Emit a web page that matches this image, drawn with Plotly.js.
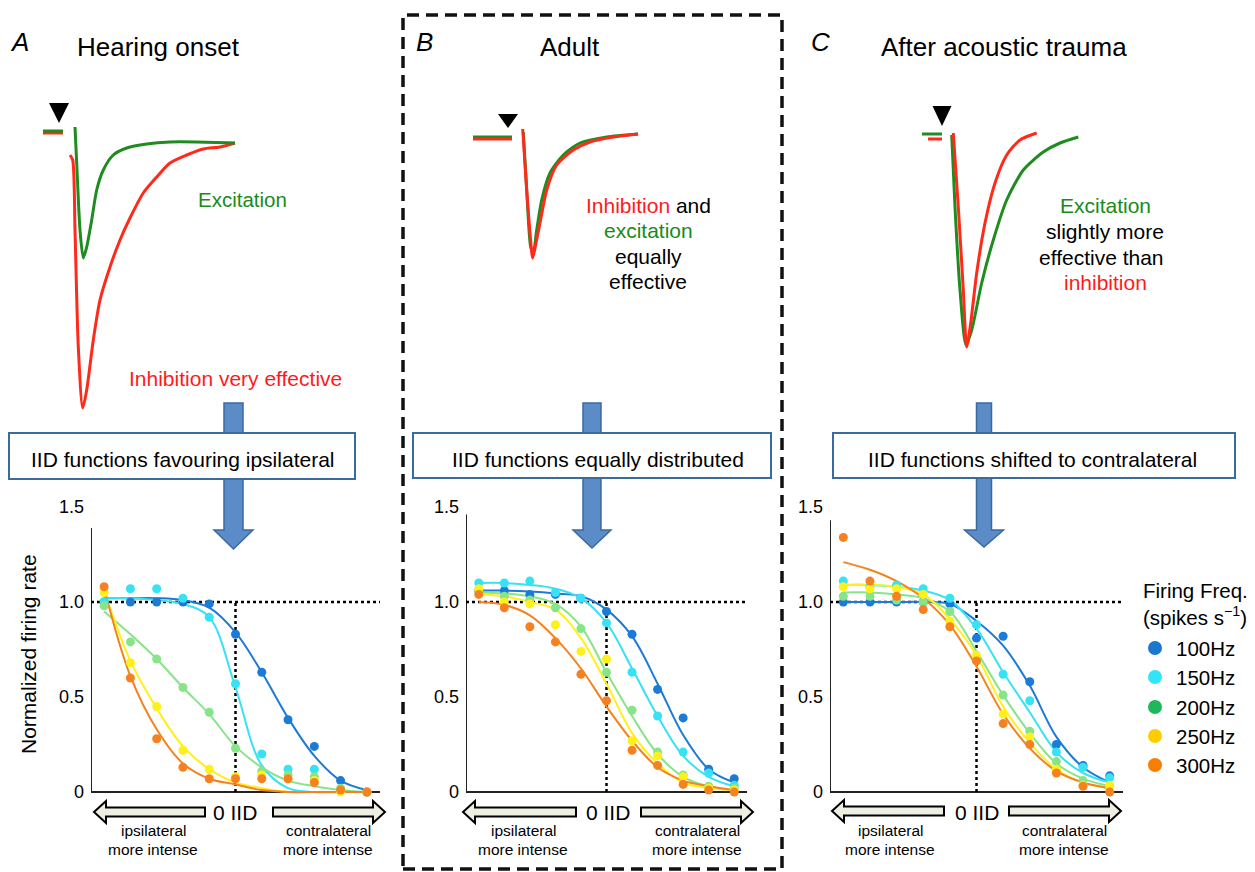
<!DOCTYPE html>
<html><head><meta charset="utf-8">
<script src="https://cdn.plot.ly/plotly-3.0.1.min.js"></script>
<style>html,body{margin:0;padding:0;background:#fff}</style>
</head><body>
<div id="chart" style="width:1255px;height:872px"></div>
<script>
// ---------------- DATA ----------------
const IID = [-5,-4,-3,-2,-1,0,1,2,3,4,5];
const freqLabels = ['100Hz','150Hz','200Hz','250Hz','300Hz'];
const freqColors = ['#1b7bd6','#36e2f3','#88e488','#fff01a','#f5821f'];
const legendColors = ['#1a78cf','#30e6f6','#1db85a','#ffcc00','#f77f00'];

// A: hearing onset (normalized firing rate, points and fitted curves)
const onsetPoints = [
  [1.00,1.00,1.00,1.00,0.99,0.83,0.63,0.38,0.24,0.06,0.00],
  [1.00,1.07,1.07,1.02,0.92,0.57,0.20,0.12,0.12,0.01,0.00],
  [0.98,0.79,0.70,0.55,0.42,0.23,0.11,0.09,0.08,0.02,0.00],
  [1.05,0.68,0.45,0.22,0.12,0.08,0.09,0.07,0.06,0.00,0.00],
  [1.08,0.60,0.28,0.13,0.07,0.07,0.07,0.07,0.05,0.01,0.00]
];
const onsetFits = [
  [1.02,1.02,1.02,1.01,0.97,0.84,0.63,0.39,0.19,0.06,0.01],
  [1.02,1.02,1.01,0.99,0.92,0.55,0.14,0.02,0.00,0.00,0.00],
  [0.95,0.83,0.70,0.55,0.41,0.24,0.13,0.06,0.03,0.01,0.00],
  [1.06,0.69,0.44,0.24,0.12,0.05,0.02,0.00,0.00,0.00,0.00],
  [1.07,0.61,0.33,0.15,0.07,0.04,0.01,0.00,0.00,0.00,0.00]
];
// B: adult
const adultPoints = [
  [1.06,1.06,1.04,1.04,1.02,0.95,0.83,0.54,0.39,0.12,0.07],
  [1.10,1.10,1.11,1.05,1.02,0.89,0.63,0.40,0.21,0.10,0.035],
  [1.06,1.03,1.01,0.97,0.86,0.63,0.43,0.21,0.09,0.03,0.02],
  [1.07,1.00,0.99,0.88,0.74,0.70,0.27,0.19,0.08,0.02,0.01],
  [1.04,0.97,0.87,0.79,0.62,0.48,0.22,0.14,0.04,0.01,0.00]
];
const adultFits = [
  [1.06,1.06,1.055,1.045,1.03,0.96,0.82,0.57,0.30,0.12,0.05],
  [1.10,1.10,1.09,1.07,1.02,0.89,0.65,0.40,0.19,0.08,0.03],
  [1.05,1.045,1.03,0.99,0.87,0.63,0.40,0.20,0.08,0.03,0.01],
  [1.04,1.03,1.00,0.96,0.81,0.57,0.31,0.15,0.05,0.02,0.01],
  [1.00,0.985,0.93,0.81,0.65,0.45,0.27,0.13,0.06,0.03,0.01]
];
// C: after acoustic trauma
const traumaPoints = [
  [1.00,1.00,1.00,1.00,0.99,0.81,0.82,0.58,0.25,0.14,0.085],
  [1.11,1.08,1.09,1.07,1.02,0.88,0.62,0.48,0.21,0.13,0.075],
  [1.03,1.03,1.01,1.00,0.95,0.69,0.51,0.32,0.16,0.06,0.03],
  [1.08,1.07,1.07,1.04,0.90,0.72,0.41,0.29,0.12,0.035,0.035],
  [1.34,1.11,1.03,0.96,0.87,0.69,0.36,0.25,0.10,0.03,0.00]
];
const traumaFits = [
  [1.00,1.00,1.00,1.00,0.99,0.90,0.77,0.56,0.29,0.13,0.05],
  [1.09,1.09,1.08,1.06,1.01,0.86,0.63,0.42,0.21,0.10,0.05],
  [1.05,1.05,1.04,1.02,0.95,0.74,0.51,0.31,0.15,0.07,0.03],
  [1.09,1.09,1.08,1.04,0.91,0.72,0.45,0.26,0.12,0.05,0.02],
  [1.21,1.17,1.11,1.02,0.88,0.66,0.41,0.23,0.11,0.05,0.02]
];

// Synaptic current traces (time after stimulus, current relative to baseline; null = gap)
const onsetExcT = [-16,4,null,16,17.7,21,24.3,27.7,32.7,37.7,44.3,54.3,67.7,87.7,111,137.7,176];
const onsetExcI = [1,1,null,5,-31,-98,-126,-115,-88,-58,-38,-23,-16,-12,-10,-10,-11];
const onsetInhT = [-16,4,null,11,13.7,16,19.3,23.7,27.7,34.3,41,51,61,71,84.3,97.7,111,127.7,144.3,161,176];
const onsetInhI = [-1,-1,null,-23,-28,-98,-215,-276,-258,-208,-168,-135,-108,-86,-61,-45,-31,-23,-17,-15,-11];
const adultExcT = [-35,4,null,15.3,18.7,22.7,25.3,28.7,33.7,42,55.3,72,98.7,130];
const adultExcI = [0,0,null,5,-53,-110,-116,-93,-63,-36,-18,-6,0,3];
const adultInhT = [-35,4,null,14.7,18.7,22,24.7,28,32,38.7,48.7,65.3,82,105.3,130];
const adultInhI = [-2,-2,null,8,-53,-96,-121,-106,-86,-53,-28,-13,-5,0,3];
const traumaExcT = [-20,0,null,9.7,13,18,24,29.7,39.7,51.3,64.7,81.3,101.3,118,136.3];
const traumaExcI = [0,0,null,-1,-73,-156,-211,-196,-149,-106,-66,-36,-18,-9,-3];
const traumaInhT = [-14,0,null,11.3,16.3,21.3,24.7,28.7,34.7,43,53,64.7,78,94.7];
const traumaInhI = [-5,-5,null,1,-73,-156,-213,-189,-139,-89,-49,-21,-6,1];

// ---------------- HELPERS ----------------
const W = 1255, H = 872;
const FONT = '"Liberation Sans", Arial, Helvetica, sans-serif';
const fx = px => px / W;
const fy = py => 1 - py / H;
const P = (x, y) => fx(x).toFixed(5) + ',' + fy(y).toFixed(5);
const GREEN = '#1f8c1f', RED = '#ff2a1a', TXTGREEN = '#1a8a1a', TXTRED = '#ff1a1a';

function downArrow(cx, top, headTop, tip, sw, hw) {
  return 'M' + P(cx - sw, top) + ' L' + P(cx + sw, top) + ' L' + P(cx + sw, headTop) +
    ' L' + P(cx + hw, headTop) + ' L' + P(cx, tip) + ' L' + P(cx - hw, headTop) +
    ' L' + P(cx - sw, headTop) + ' Z';
}
function leftArrow(tip, end, yc) {
  const hl = 12, hh = 11, sh = 4.5;
  return 'M' + P(tip, yc) + ' L' + P(tip + hl, yc - hh) + ' L' + P(tip + hl, yc - sh) +
    ' L' + P(end, yc - sh) + ' L' + P(end, yc + sh) + ' L' + P(tip + hl, yc + sh) +
    ' L' + P(tip + hl, yc + hh) + ' Z';
}
function rightArrow(start, tip, yc) {
  const hl = 12, hh = 11, sh = 4.5;
  return 'M' + P(tip, yc) + ' L' + P(tip - hl, yc - hh) + ' L' + P(tip - hl, yc - sh) +
    ' L' + P(start, yc - sh) + ' L' + P(start, yc + sh) + ' L' + P(tip - hl, yc + sh) +
    ' L' + P(tip - hl, yc + hh) + ' Z';
}
function ann(text, x, y, size, color, extra) {
  return Object.assign({
    text: text, x: fx(x), y: fy(y), xref: 'paper', yref: 'paper', showarrow: false,
    xanchor: 'center', yanchor: 'middle',
    font: {family: FONT, size: size, color: color || '#000'}
  }, extra || {});
}

// ---------------- TRACES ----------------
const traces = [];
function curTrace(t, i, color, xa, ya) {
  traces.push({x: t, y: i, mode: 'lines', xaxis: xa, yaxis: ya, connectgaps: false,
    line: {color: color, width: 3, shape: 'spline', smoothing: 0.7},
    hoverinfo: 'skip', showlegend: false});
}
curTrace(onsetInhT, onsetInhI, RED, 'x', 'y');
curTrace(onsetExcT, onsetExcI, GREEN, 'x', 'y');
curTrace(adultExcT, adultExcI, GREEN, 'x2', 'y2');
curTrace(adultInhT, adultInhI, RED, 'x2', 'y2');
curTrace(traumaExcT, traumaExcI, GREEN, 'x3', 'y3');
curTrace(traumaInhT, traumaInhI, RED, 'x3', 'y3');

const panels = [
  {pts: onsetPoints, fits: onsetFits, xa: 'x4', ya: 'y4'},
  {pts: adultPoints, fits: adultFits, xa: 'x5', ya: 'y5'},
  {pts: traumaPoints, fits: traumaFits, xa: 'x6', ya: 'y6'}
];
panels.forEach(p => {
  p.fits.forEach((f, i) => traces.push({
    x: IID, y: f, mode: 'lines', xaxis: p.xa, yaxis: p.ya, name: freqLabels[i],
    line: {color: freqColors[i], width: 2, shape: 'spline', smoothing: 1},
    hoverinfo: 'skip', showlegend: false}));
  p.pts.forEach((v, i) => traces.push({
    x: IID, y: v, mode: 'markers', xaxis: p.xa, yaxis: p.ya, name: freqLabels[i],
    marker: {color: freqColors[i], size: 9, line: {width: 0}},
    hoverinfo: 'skip', showlegend: false}));
});

// ---------------- LAYOUT ----------------
const hidden = {visible: false, fixedrange: true};
const bottomY = {
  domain: [fy(801.5), fy(497.5)], range: [-0.05, 1.55],
  tickvals: [0, 0.5, 1, 1.5], ticktext: ['0', '0.5', '1.0', '1.5'],
  showgrid: false, zeroline: false, showline: false, ticks: '',
  ticklabelstandoff: 6, tickfont: {family: FONT, size: 18, color: '#000'}, fixedrange: true
};
const bottomX = {range: [-5.5, 5.5], showgrid: false, zeroline: false, showline: false,
  showticklabels: false, ticks: '', fixedrange: true};

const layout = {
  width: W, height: H, autosize: false,
  margin: {l: 0, r: 0, t: 0, b: 0, pad: 0},
  paper_bgcolor: '#fff', plot_bgcolor: 'rgba(0,0,0,0)', showlegend: false,
  xaxis: Object.assign({domain: [fx(30), fx(250)], range: [-29, 191], anchor: 'y'}, hidden),
  yaxis: Object.assign({domain: [fy(420), fy(95)], range: [-288, 37], anchor: 'x'}, hidden),
  xaxis2: Object.assign({domain: [fx(460), fx(660)], range: [-48, 152], anchor: 'y2'}, hidden),
  yaxis2: Object.assign({domain: [fy(300), fy(95)], range: [-163, 42], anchor: 'x2'}, hidden),
  xaxis3: Object.assign({domain: [fx(910), fx(1100)], range: [-32, 158], anchor: 'y3'}, hidden),
  yaxis3: Object.assign({domain: [fy(360), fy(95)], range: [-226, 39], anchor: 'x3'}, hidden),
  xaxis4: Object.assign({domain: [fx(91), fx(380)], anchor: 'y4'}, bottomX),
  yaxis4: Object.assign({anchor: 'x4'}, bottomY),
  xaxis5: Object.assign({domain: [fx(466), fx(747)], anchor: 'y5'}, bottomX),
  yaxis5: Object.assign({anchor: 'x5'}, bottomY),
  xaxis6: Object.assign({domain: [fx(830), fx(1123)], anchor: 'y6'}, bottomX),
  yaxis6: Object.assign({anchor: 'x6'}, bottomY),
  shapes: [], annotations: []
};
const S = layout.shapes, A = layout.annotations;

// dashed frame around B
S.push({type: 'rect', xref: 'paper', yref: 'paper', x0: fx(403), x1: fx(782), y0: fy(869), y1: fy(15),
  line: {color: '#111', width: 3.5, dash: '12px,7px'}, fillcolor: 'rgba(0,0,0,0)'});

// stimulus triangles
[['x', 'y', 10, 29, 9], ['x2', 'y2', 10, 23, 9], ['x3', 'y3', 9.5, 28, 8]].forEach(t => {
  S.push({type: 'path', xref: t[0], yref: t[1],
    path: 'M' + (-t[2]) + ',' + t[3] + ' L' + t[2] + ',' + t[3] + ' L0,' + t[4] + ' Z',
    fillcolor: '#000', line: {width: 0}});
});

// blue down arrows and boxes
const arrowSpec = [[233.5, 403, 530, 549, 9.5, 19.5], [592, 403, 530, 548, 9, 19], [984, 403, 530, 547, 7.5, 19.5]];
arrowSpec.forEach(a => S.push({type: 'path', xref: 'paper', yref: 'paper',
  path: downArrow(a[0], a[1], a[2], a[3], a[4], a[5]), fillcolor: '#5b8cc8',
  line: {color: '#3a6aa0', width: 1.5}}));
[[9, 355, 433, 479], [413, 771, 433, 478], [833, 1235, 433, 478]].forEach(b => S.push({
  type: 'rect', xref: 'paper', yref: 'paper', x0: fx(b[0]), x1: fx(b[1]), y0: fy(b[3]), y1: fy(b[2]),
  fillcolor: '#fff', line: {color: '#3b6b9a', width: 2}}));

// bottom double arrows
[[94, 205, 273, 385, 812], [463, 576, 641, 753, 812], [832, 944, 1009, 1121, 811]].forEach(a => {
  S.push({type: 'path', xref: 'paper', yref: 'paper', path: leftArrow(a[0], a[1], a[4]),
    fillcolor: '#eeeee2', line: {color: '#000', width: 2}});
  S.push({type: 'path', xref: 'paper', yref: 'paper', path: rightArrow(a[2], a[3], a[4]),
    fillcolor: '#eeeee2', line: {color: '#000', width: 2}});
});

// axes lines and dotted reference lines for IID plots
[['x4', 'y4', 1.39, 5.8], ['x5', 'y5', 1.46, 5.95], ['x6', 'y6', 1.43, 5.6]].forEach(p => {
  S.push({type: 'line', xref: p[0], yref: p[1], x0: -5.5, x1: 5.5, y0: 0, y1: 0, layer: 'below',
    line: {color: '#222', width: 2}});
  S.push({type: 'line', xref: p[0], yref: p[1], x0: -5.5, x1: -5.5, y0: 0, y1: p[2], layer: 'below',
    line: {color: '#222', width: 2}});
  S.push({type: 'line', xref: p[0], yref: p[1], x0: -5.5, x1: p[3], y0: 1, y1: 1, layer: 'below',
    line: {color: '#000', width: 2.5, dash: 'dot'}});
  S.push({type: 'line', xref: p[0], yref: p[1], x0: 0, x1: 0, y0: 0, y1: 1, layer: 'below',
    line: {color: '#000', width: 2.5, dash: 'dot'}});
});

// legend
const legendRows = [648, 677, 707, 736, 765];
legendRows.forEach((ry, i) => {
  S.push({type: 'circle', xref: 'paper', yref: 'paper', x0: fx(1148), x1: fx(1162), y0: fy(ry + 7), y1: fy(ry - 7),
    fillcolor: legendColors[i], line: {width: 0}});
  A.push(ann(freqLabels[i], 1174, ry, 20.5, '#000', {xanchor: 'left'}));
});
A.push(ann('Firing Freq.', 1195, 590, 20.5));
A.push(ann('(spikes s<sup>−1</sup>)', 1195, 616, 20.5));

// panel titles
A.push(ann('<i>A</i>', 19, 42, 26));
A.push(ann('Hearing onset', 158, 47, 26));
A.push(ann('<i>B</i>', 424, 42, 26));
A.push(ann('Adult', 570, 47, 26));
A.push(ann('<i>C</i>', 820, 42, 26));
A.push(ann('After acoustic trauma', 1004, 47, 26));

// trace descriptions
A.push(ann('Excitation', 242, 200, 20.5, TXTGREEN));
A.push(ann('Inhibition very effective', 235, 378, 21, TXTRED));
A.push(ann('<span style="color:' + TXTRED + '">Inhibition</span> and', 648, 205, 21));
A.push(ann('excitation', 648, 230, 21, TXTGREEN));
A.push(ann('equally', 648, 256, 21));
A.push(ann('effective', 648, 281, 21));
A.push(ann('Excitation', 1105, 206, 21, TXTGREEN));
A.push(ann('slightly more', 1105, 232, 21));
A.push(ann('effective than', 1101, 257, 21));
A.push(ann('inhibition', 1105, 282, 21, TXTRED));

// box texts
A.push(ann('IID functions favouring ipsilateral', 183, 459, 21));
A.push(ann('IID functions equally distributed', 598, 459, 21));
A.push(ann('IID functions shifted to contralateral', 1032, 459, 21));

// IID axis labels
[[235, 153, 328], [608, 523, 697], [977, 890, 1064]].forEach(c => {
  A.push(ann('0 IID', c[0], 812, 21));
  A.push(ann('ipsilateral', c[1], 830, 15.5));
  A.push(ann('more intense', c[1], 849, 15.5));
  A.push(ann('contralateral', c[2], 830, 15.5));
  A.push(ann('more intense', c[2], 849, 15.5));
});
A.push(ann('Normalized firing rate', 28, 654, 21, '#000', {textangle: -90}));

Plotly.newPlot('chart', traces, layout, {staticPlot: true, displayModeBar: false});
</script>
</body></html>
